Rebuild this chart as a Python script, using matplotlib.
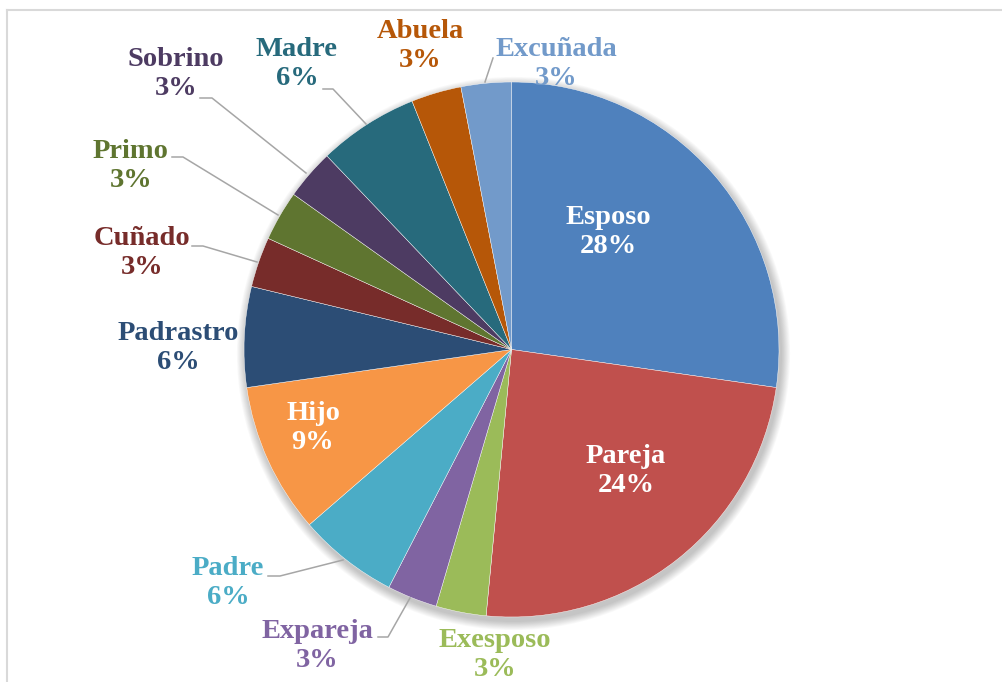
import matplotlib
matplotlib.use("Agg")
import matplotlib.pyplot as plt
from matplotlib.patches import Circle

# ---- data ----
categories = ["Esposo", "Pareja", "Exesposo", "Expareja", "Padre", "Hijo",
              "Padrastro", "Cuñado", "Primo", "Sobrino", "Madre", "Abuela", "Excuñada"]
counts = [9, 8, 1, 1, 2, 3, 2, 1, 1, 1, 2, 1, 1]
pct_labels = ["28%", "24%", "3%", "3%", "6%", "9%", "6%", "3%", "3%", "3%", "6%", "3%", "3%"]
colors = ["#4F81BD", "#C0504D", "#9BBB59", "#8064A2", "#4BACC6", "#F79646",
          "#2C4D75", "#772C2A", "#5F7530", "#4D3B62", "#276A7C", "#B65708", "#729ACA"]

W, H = 1003, 682
fig = plt.figure(figsize=(W / 100, H / 100), dpi=100)
ax = fig.add_axes([0, 0, 1, 1])
ax.set_xlim(0, W)
ax.set_ylim(0, H)
ax.set_aspect("equal")
ax.axis("off")

def Y(y):
    return H - y

# frame
ax.plot([7.5, 7.5], [Y(10), Y(H + 5)], color="#D9D9D9", lw=1.5, zorder=0)
ax.plot([7, W + 5], [Y(10), Y(10)], color="#D9D9D9", lw=1.5, zorder=0)

cx, cy, R = 511.5, Y(349.5), 267.5

# soft shadow
for i in range(10):
    ax.add_patch(Circle((cx + 2, cy - 4), R + 1 + i * 0.9, color="#000000",
                        alpha=0.025, lw=0, zorder=1))

ax.pie(counts, colors=colors, startangle=90, counterclock=False,
       center=(cx, cy), radius=R, frame=True,
       wedgeprops=dict(edgecolor="white", linewidth=0.3, zorder=2))
ax.set_xlim(0, W)
ax.set_ylim(0, H)
ax.axis("off")

font = dict(family="Liberation Serif", weight="bold", fontsize=20.5)

# label positions (image px): center of two-line block
pos = {
    "Esposo": (608, 232, "white"),
    "Pareja": (626, 471, "white"),
    "Exesposo": (495, 655, None),
    "Expareja": (317, 646, None),
    "Padre": (228, 583, None),
    "Hijo": (313, 428, "white"),
    "Padrastro": (178, 348, None),
    "Cuñado": (142, 253, None),
    "Primo": (131, 166, None),
    "Sobrino": (176, 74, None),
    "Madre": (297, 64, None),
    "Abuela": (420, 46, None),
    "Excuñada": (556, 64, None),
}
for name, lab, col in zip(categories, pct_labels, colors):
    x, y, tc = pos[name]
    ax.text(x, Y(y), f"{name}\n{lab}", ha="center", va="center",
            color=tc if tc else col, linespacing=1.2, zorder=5, **font)

# leader lines (image px)
leaders = [
    [(192, 246), (203, 246), (257, 262)],      # Cuñado
    [(172, 157), (183, 157), (278, 215)],      # Primo
    [(200, 98), (212, 98), (306, 173)],        # Sobrino
    [(323, 89), (333, 89), (366, 124)],        # Madre
    [(493, 58), (485, 82)],                    # Excuñada
    [(268, 576), (280, 576), (343, 560)],      # Padre
    [(378, 637), (388, 637), (410, 598)],      # Expareja
]
for pts in leaders:
    xs = [p[0] for p in pts]
    ys = [Y(p[1]) for p in pts]
    ax.plot(xs, ys, color="#A6A6A6", lw=1.1, zorder=4)

fig.savefig("out.png", dpi=100)
